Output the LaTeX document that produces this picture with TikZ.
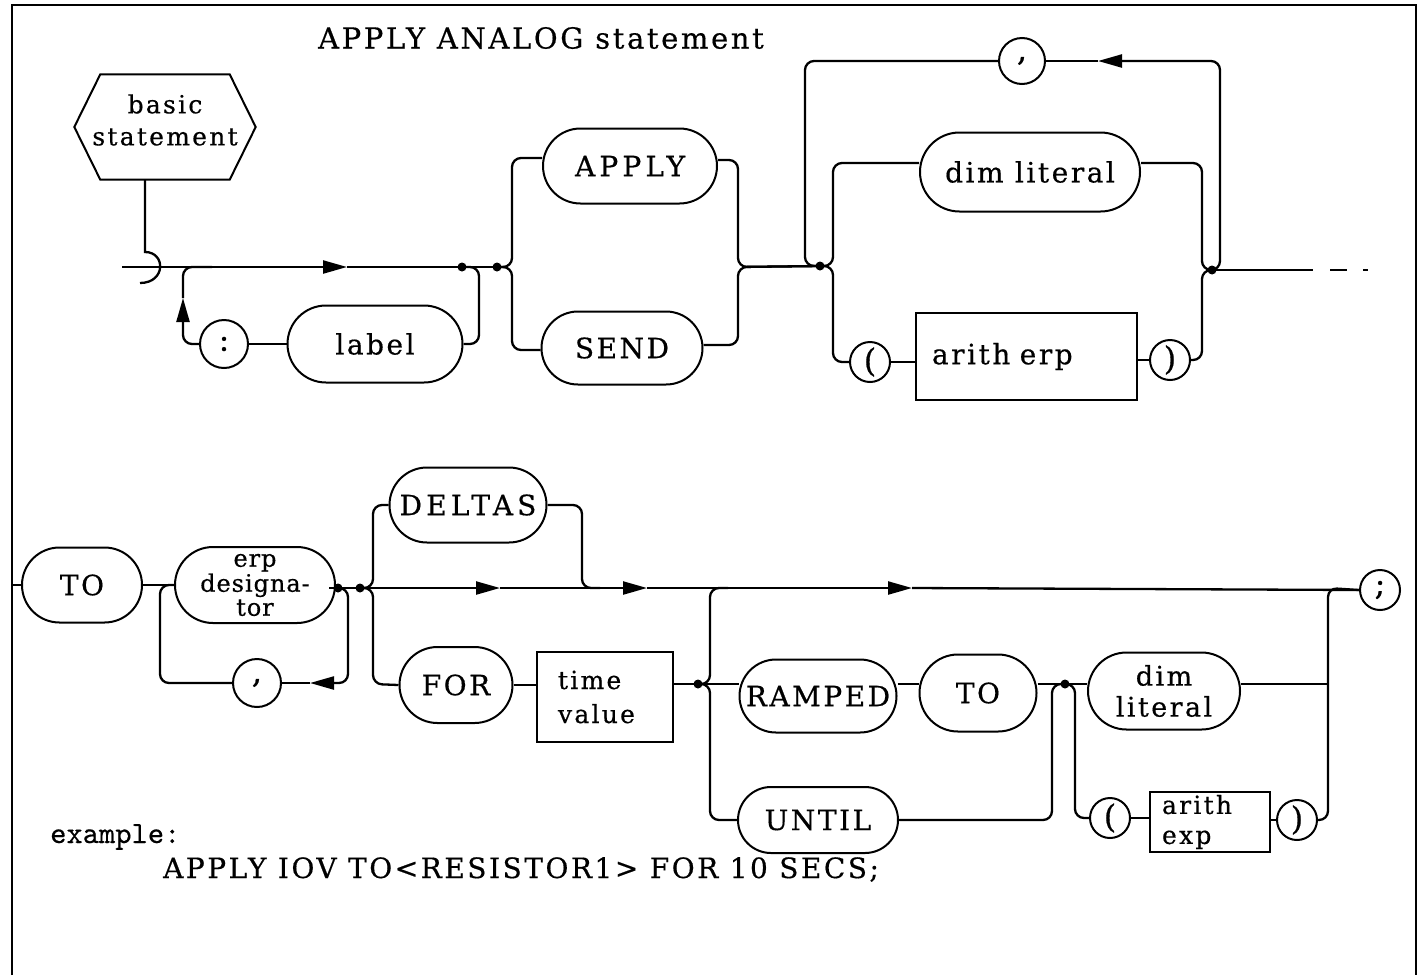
\documentclass[tikz,border=0pt]{standalone}
\usepackage{fontspec}
\setmainfont{DejaVu Serif}[LetterSpace=9, FakeBold=0.5]
\newfontfamily\exfont{lmmono10-regular.otf}[FakeBold=0.4]
\usetikzlibrary{shapes.misc,arrows.meta,calc}
\begin{document}
\begin{tikzpicture}[x=1pt,y=-1pt,
  every node/.style={font=\fontsize{28}{32}\selectfont, inner sep=0pt},
  small/.style={font=\fontsize{25}{#1}\selectfont},
  wide/.style={font=\fontsize{28}{32}\selectfont\addfontfeature{LetterSpace=15}},
  rail/.style={line width=2.3pt, rounded corners=9pt},
  stad/.style args={#1/#2}{draw, line width=2pt, rounded rectangle, minimum width=#1pt, minimum height=#2pt},
  boxn/.style args={#1/#2}{draw, line width=2pt, rectangle, minimum width=#1pt, minimum height=#2pt},
  circ/.style={draw, line width=2pt, circle, minimum size=#1pt, font=\fontsize{32}{34}\selectfont},
  dotn/.style={circle, fill, minimum size=9pt},
  arr/.style={line width=2.3pt, -{Triangle[length=24pt,width=13pt]}},
  frame/.style={line width=1.8pt}
]
\useasboundingbox (0,0) rectangle (1426,975);
% frame
\coordinate (fbl) at (12,975);
\coordinate (ftl) at (12,5);
\coordinate (ftr) at (1416,5);
\coordinate (fbr) at (1416,975);
\draw[frame] (fbl) -- (ftl) -- (ftr) -- (fbr);

% title
\node[font=\fontsize{29}{32}\selectfont] (title) at (541,38) {APPLY ANALOG statement};

% basic statement hexagon
\node (hex) at (165,127) [minimum width=181pt, minimum height=105pt] {};
\draw[line width=2pt] ([xshift=26pt]hex.north west) -- ([xshift=-26pt]hex.north east) -- (hex.east) -- ([xshift=-26pt]hex.south east) -- ([xshift=26pt]hex.south west) -- (hex.west) -- cycle;
\node[align=center, small=32] (hextxt) at (165,120) {basic\\statement};
\coordinate (jtop) at (145,252);
\coordinate (jbot) at (140,283);
\draw[line width=2.3pt] ([xshift=-20pt]hex.south) -- (jtop) .. controls (166,252) and (166,283) .. (jbot);

% ---------- row 1 ----------
\coordinate (start) at (122,267);
\coordinate (a1) at (347,267);
\node[dotn] (d1) at (462,267) {};
\node[dotn] (d2) at (497,267) {};
\draw[arr] (start) -- (a1);
\draw[rail] (a1) -- (d1.center) -- (d2.center);

\node[stad=175/77] (label) at (375,344) {label};
\node[circ=48] (colon) at (224,344) {:};
\coordinate (a2) at (183,298);
\coordinate (m1) at (212,267);
\draw[rail] (d1.center) -- (479,267) -- (479,344) -- (label.east);
\draw[rail] (label.west) -- (colon.east);
\draw[rail, arr] (colon.west) -- (183,344) -- (a2);
\draw[rail] (a2) -- (183,267) -- (m1);

\node[stad=174/75, wide] (apply) at (630,166) {APPLY};
\node[stad=161/73] (send) at (622,348) {SEND};
\node[dotn] (d3) at (820,266) {};
\node[dotn] (d4) at (1212,270) {};
\draw[rail] (d2.center) -- (512,267) -- (512,158) -- (apply.west |- 0,158);
\draw[rail] (d2.center) -- (512,267) -- (512,350) -- (send.west |- 0,350);
\draw[rail] (apply.east |- 0,160) -- (738,160) -- (738,267) -- (d3.center);
\draw[rail] (send.east |- 0,345) -- (738,345) -- (738,267) -- (d3.center);

\node[stad=220/79] (dimlit) at (1030,172) {dim literal};
\node[circ=46] (comma1) at (1022,61) {,};
\node[circ=40] (lp1) at (870,362) {(};
\node[circ=40] (rp1) at (1170,360) {)};
\node[boxn=221/87, align=left, text width=189pt] (arith1) at (1026.5,356.5) {arith erp};
\coordinate (a3) at (1098,61);
\draw[rail, arr] (d4.center) -- (1220,270) -- (1220,61) -- (a3);
\draw[rail] (a3) -- (comma1.east);
\draw[rail] (comma1.west) -- (805,61) -- (805,266) -- (d3.center);
\draw[rail] (d3.center) -- (833,266) -- (833,163) -- (dimlit.west |- 0,163);
\draw[rail] (dimlit.east |- 0,163) -- (1202,163) -- (1202,270) -- (d4.center);
\draw[rail] (d3.center) -- (833,266) -- (833,362) -- (lp1.west);
\draw[rail] (lp1.east) -- (arith1.west |- lp1.east);
\draw[rail] (arith1.east |- rp1.west) -- (rp1.west);
\draw[rail] (rp1.east) -- (1202,360) -- (1202,270) -- (d4.center);
\coordinate (tailend) at (1368,270);
\draw[line width=2.3pt, dash pattern=on 101pt off 17pt on 17pt off 16pt on 5pt] (d4.center) -- (tailend);

% ---------- row 2 ----------
\coordinate (f2) at (12,585);
\node[stad=120/75] (to1) at (82,585) {TO};
\node[stad=160/76, align=center, font=\fontsize{24}{25}\selectfont\addfontfeature{LetterSpace=4}] (erp) at (255,585) {erp\\designa-\\[-1pt]tor};
\coordinate (e1) at (to1.east -| erp.west);
\node[dotn] (dA) at (338,588) {};
\node[dotn] (dB) at (360,588) {};
\node[circ=48] (comma2) at (257,683) {,};
\coordinate (a4) at (310,683);
\draw[rail] (f2) -- (to1.west);
\draw[rail] (to1.east) -- (e1);
\draw[rail] (erp.east |- dA) -- (dA.center) -- (dB.center);
\draw[rail, arr] (dA.center) -- (348,588) -- (348,683) -- (a4);
\draw[rail] (a4) -- (comma2.east);
\draw[rail] (comma2.west) -- (160,683) -- (160,585) -- (e1);

\node[stad=157/75, wide] (deltas) at (468,505) {DELTAS};
\node[stad=113/76] (for) at (456,685) {FOR};
\node[boxn=136/90, align=left, text width=94pt, small=34] (tv) at (605,697) {time\\value};
\node[dotn] (dC) at (698,684) {};
\coordinate (m2) at (600,588);
\coordinate (m3) at (728,588);
\draw[rail] (dB.center) -- (373,588) -- (373,505) -- (deltas.west);
\draw[rail] (deltas.east) -- (582,505) -- (582,588) -- (m2);
\draw[rail] (dB.center) -- (373,588) -- (373,684) -- (for.west);
\draw[rail] (for.east) -- (for.east -| tv.west);
\draw[rail] (tv.east |- dC) -- (dC.center);
\draw[rail] (dC.center) -- (710,684) -- (710,588) -- (m3);

\node[stad=157/73] (ramped) at (818,696) {RAMPED};
\node[stad=117/77] (to2) at (978,693) {TO};
\node[dotn] (dD) at (1065,684) {};
\node[stad=160/66] (until) at (818,820) {UNTIL};
\draw[rail] (dC.center) -- (ramped.west |- dC);
\draw[rail] (ramped.east |- dC) -- (to2.west |- dC);
\draw[rail] (to2.east |- dD) -- (dD.center);
\draw[rail] (dC.center) -- (710,684) -- (710,820) -- (until.west);
\draw[rail] (until.east) -- (1052,820) -- (1052,684) -- (dD.center);

\node[stad=152/77, align=center, font=\fontsize{27}{31}\selectfont] (dim2) at (1164,691) {dim\\literal};
\node[circ=40] (lp2) at (1110,818) {(};
\node[boxn=120/60, align=left, text width=96pt, small=30] (ae) at (1210,822) {arith\\exp};
\node[circ=40] (rp2) at (1297,820) {)};
\node[circ=40] (semi) at (1380,590) {;};
\coordinate (j5) at (1328,684);
\draw[rail] (dD.center) -- (dim2.west |- dD);
\draw[rail] (dD.center) -- (1075,684) -- (1075,818) -- (lp2.west);
\draw[rail] (lp2.east) -- (ae.west |- lp2);
\draw[rail] (ae.east |- rp2) -- (rp2.west);
\draw[rail] (rp2.east) -- (1328,820) -- (1328,588) -- (semi.west);
\draw[rail] (dim2.east |- dD) -- (j5);

\coordinate (b1) at (500,588);
\coordinate (b2) at (647,588);
\coordinate (b3) at (912,588);
\draw[arr] (dB.center) -- (b1);
\draw[arr] (b1) -- (b2);
\draw[arr] (b2) -- (b3);
\draw[rail] (b3) -- (semi.west);

% example
\node[anchor=base west, font=\fontsize{31}{34}\exfont] (ex) at (50,843) {example:};
\node[anchor=base west] (exline) at (163,878) {APPLY IOV TO<RESISTOR1> FOR 10 SECS;};
\end{tikzpicture}
\end{document}
